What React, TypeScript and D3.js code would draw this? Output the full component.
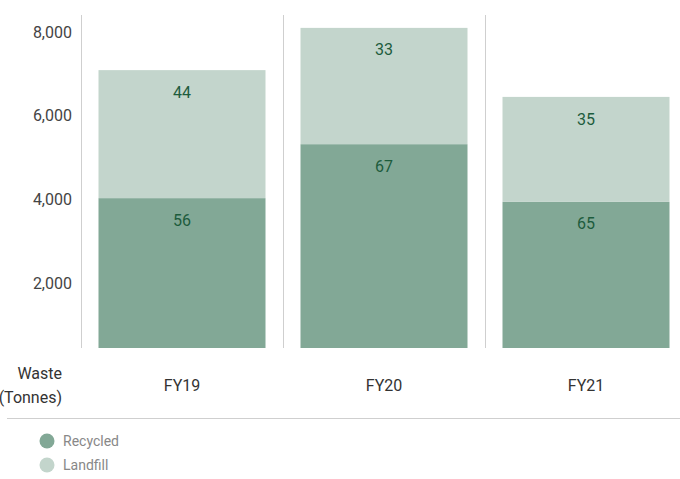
import React from "react";
import * as d3 from "d3";

const categories = ["FY19", "FY20", "FY21"];
const recycled = [4030, 5320, 3940];
const landfill = [3060, 2780, 2510];
const recycledPct = ["56", "67", "65"];
const landfillPct = ["44", "33", "35"];
const yTicks = [2000, 4000, 6000, 8000];

const WIDTH = 680;
const HEIGHT = 479;
const FONT = "Roboto, 'Noto Sans', sans-serif";
const RECYCLED_COLOR = "#82a896";
const LANDFILL_COLOR = "#c3d5cc";
const LABEL_COLOR = "#1d5c3d";
const GRID_COLOR = "#cfcfcf";

export default function App() {
    const plotTop = 15;
    const plotBottom = 348;

    const x = d3.scaleBand<string>()
        .domain(categories)
        .range([81, 687])
        .padding(0);

    // axis does not start at zero: bars are clamped to the plot floor
    const y = d3.scaleLinear()
        .domain([447, 8408])
        .range([plotBottom, plotTop])
        .clamp(true);

    const barInset = 17.5;
    const barWidth = x.bandwidth() - 35;

    const stacked = categories.map((c, i) => ({
        name: c,
        rec: [0, recycled[i]],
        land: [recycled[i], recycled[i] + landfill[i]],
    }));

    return (
        <svg width={WIDTH} height={HEIGHT} style={{ position: "absolute", left: 0, top: 0 }} fontFamily={FONT}>
            {/* separators */}
            {categories.map(c => (
                <line key={"sep" + c} x1={x(c)! + 0.5} x2={x(c)! + 0.5} y1={plotTop} y2={plotBottom}
                    stroke={GRID_COLOR} strokeWidth={1} />
            ))}

            {/* y tick labels */}
            {yTicks.map(t => (
                <text key={t} x={72} y={y(t)} dy="0.35em" textAnchor="end" fontSize={16} fill="#444">
                    {d3.format(",")(t)}
                </text>
            ))}

            {/* bars */}
            {stacked.map((d, i) => (
                <g key={d.name}>
                    <rect x={x(d.name)! + barInset} width={barWidth}
                        y={y(d.rec[1])} height={y(d.rec[0]) - y(d.rec[1])} fill={RECYCLED_COLOR} />
                    <rect x={x(d.name)! + barInset} width={barWidth}
                        y={y(d.land[1])} height={y(d.land[0]) - y(d.land[1])} fill={LANDFILL_COLOR} />
                    <text x={x(d.name)! + x.bandwidth() / 2} y={y(d.rec[1]) + 22} dy="0.35em"
                        textAnchor="middle" fontSize={16} fill={LABEL_COLOR}>{recycledPct[i]}</text>
                    <text x={x(d.name)! + x.bandwidth() / 2} y={y(d.land[1]) + 22} dy="0.35em"
                        textAnchor="middle" fontSize={16} fill={LABEL_COLOR}>{landfillPct[i]}</text>
                </g>
            ))}

            {/* x labels */}
            {categories.map(c => (
                <text key={"lab" + c} x={x(c)! + x.bandwidth() / 2} y={385} dy="0.35em"
                    textAnchor="middle" fontSize={16} fill="#333">{c}</text>
            ))}
            <text x={62} y={373} dy="0.35em" textAnchor="end" fontSize={16} fill="#333">Waste</text>
            <text x={62} y={397} dy="0.35em" textAnchor="end" fontSize={16} fill="#333">(Tonnes)</text>

            <line x1={7} x2={WIDTH} y1={418.5} y2={418.5} stroke={GRID_COLOR} strokeWidth={1} />

            {/* legend */}
            <circle cx={47} cy={441} r={7.5} fill={RECYCLED_COLOR} />
            <text x={63} y={441} dy="0.35em" fontSize={14} fill="#888">Recycled</text>
            <circle cx={47} cy={465} r={7.5} fill={LANDFILL_COLOR} />
            <text x={63} y={465} dy="0.35em" fontSize={14} fill="#888">Landfill</text>
        </svg>
    );
}
